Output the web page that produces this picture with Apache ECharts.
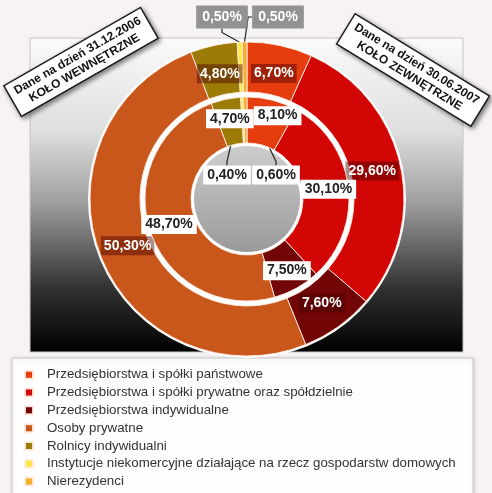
<!DOCTYPE html>
<html>
<head>
<meta charset="utf-8">
<script src="https://cdn.jsdelivr.net/npm/echarts@6/dist/echarts.min.js"></script>
<style>
  html, body { margin: 0; padding: 0; background: #f7f3f5; }
  #chart { width: 492px; height: 493px; }
</style>
</head>
<body>
<div id="chart"></div>
<script>
// Struktura własności – dwa pierścienie (wewnętrzny: 31.12.2006, zewnętrzny: 30.06.2007)
const categories = [
  'Przedsiębiorstwa i spółki państwowe',
  'Przedsiębiorstwa i spółki prywatne oraz spółdzielnie',
  'Przedsiębiorstwa indywidualne',
  'Osoby prywatne',
  'Rolnicy indywidualni',
  'Instytucje niekomercyjne działające na rzecz gospodarstw domowych',
  'Nierezydenci'
];
const outerValues = [6.7, 29.6, 7.6, 50.3, 4.8, 0.5, 0.5];   // 30.06.2007
const innerValues = [8.1, 30.1, 7.5, 48.7, 4.7, 0.4, 0.6];   // 31.12.2006
const palette = ['#e63d0e', '#d30606', '#720606', '#c9561a', '#9c7c06', '#fbe84a', '#f4ac2c'];

const CX = 247, CY = 199;
const FONT = '"Liberation Sans", Arial, sans-serif';

const fmt = v => v.toFixed(2).replace('.', ',') + '%';

const innerLabel = {
  show: true, position: 'inside', formatter: p => fmt(p.value),
  color: '#222', fontFamily: FONT, fontWeight: 'bold', fontSize: 14,
  backgroundColor: '#ffffff', padding: [3, 4, 2, 4]
};
const outerLabel = {
  show: true, position: 'inside', formatter: p => fmt(p.value),
  color: '#ffffff', fontFamily: FONT, fontWeight: 'bold', fontSize: 14,
  backgroundColor: 'rgba(70,0,0,0.45)', padding: [3, 3, 2, 3]
};
const smallOuterLabel = {
  position: 'outside', color: '#ffffff', backgroundColor: 'rgba(135,135,135,0.9)',
  padding: [5, 6, 4, 6]
};
const smallInnerLabel = {
  position: 'outside', color: '#222', backgroundColor: '#ffffff',
  padding: [3, 4, 2, 4]
};
const arrowLine = { show: true, length: 6, length2: 4, lineStyle: { color: '#222', width: 1.2 } };

// Label anchors for the two thinnest slices of each ring, relative to the centre
const smallPlacement = {
  outer: { 5: [-25, 17 - CY], 6: [31, 17 - CY] },
  inner: { 5: [-20, -24], 6: [29, -24] }
};

function ringData(values, ring) {
  return values.map((v, i) => {
    const item = { name: categories[i], value: v, itemStyle: { color: palette[i] } };
    if (i >= 5) {
      item.label = ring === 'outer' ? smallOuterLabel : smallInnerLabel;
      item.labelLine = arrowLine;
    }
    if (ring === 'inner' && i === 0) item.label = { offset: [10, -4] };
    return item;
  });
}

// Outer-ring value boxes sit a little closer to the centre than mid-ring
const OUTER_PULL = 0.95;

function placeLabels(ring) {
  return function (params) {
    const pos = smallPlacement[ring][params.dataIndex];
    if (pos) {
      return { x: CX + pos[0], y: CY + pos[1], align: 'center', verticalAlign: 'middle' };
    }
    if (ring === 'outer') {
      const r = params.labelRect;
      const mx = r.x + r.width / 2, my = r.y + r.height / 2;
      return {
        x: CX + (mx - CX) * OUTER_PULL, y: CY + (my - CY) * OUTER_PULL,
        align: 'center', verticalAlign: 'middle'
      };
    }
    return {};
  };
}

const chart = echarts.init(document.getElementById('chart'), null, { renderer: 'canvas' });

chart.setOption({
  animation: false,
  backgroundColor: '#f7f3f5',
  graphic: [
    {
      type: 'rect', z: 0, silent: true,
      shape: { x: 30, y: 38, width: 433, height: 314 },
      style: {
        fill: new echarts.graphic.LinearGradient(0, 0, 0, 1, [
          { offset: 0, color: '#fbfbfb' },
          { offset: 0.3, color: '#dedede' },
          { offset: 0.52, color: '#a0a0a0' },
          { offset: 0.8, color: '#303030' },
          { offset: 1, color: '#000000' }
        ]),
        stroke: '#c4c4c4', lineWidth: 1
      }
    },
    {
      type: 'rect', z: 0, silent: true,
      shape: { x: 12, y: 358, width: 461, height: 140 },
      style: {
        fill: '#fefefe', stroke: '#c6c6c6', lineWidth: 1,
        shadowBlur: 4, shadowColor: 'rgba(0,0,0,0.15)', shadowOffsetX: 1, shadowOffsetY: 1
      }
    },
    {
      type: 'text', z: 100, x: 81, y: 62, rotation: 0.52,
      style: {
        text: 'Dane na dzień 31.12.2006\nKOŁO WEWNĘTRZNE',
        font: 'bold 12px ' + FONT, fill: '#111', align: 'center', verticalAlign: 'middle',
        lineHeight: 14, backgroundColor: '#ffffff', borderColor: '#222', borderWidth: 1.5,
        padding: [3, 6, 3, 6],
        shadowBlur: 5, shadowColor: 'rgba(0,0,0,0.45)', shadowOffsetX: 2, shadowOffsetY: 2
      }
    },
    {
      type: 'text', z: 100, x: 413, y: 70, rotation: -0.55,
      style: {
        text: 'Dane na dzień 30.06.2007\nKOŁO ZEWNĘTRZNE',
        font: 'bold 12px ' + FONT, fill: '#111', align: 'center', verticalAlign: 'middle',
        lineHeight: 14, backgroundColor: '#ffffff', borderColor: '#222', borderWidth: 1.5,
        padding: [3, 6, 3, 6],
        shadowBlur: 5, shadowColor: 'rgba(0,0,0,0.45)', shadowOffsetX: 2, shadowOffsetY: 2
      }
    }
  ],
  legend: {
    data: categories,
    orient: 'vertical',
    left: 24, top: 368, padding: 0,
    itemWidth: 8, itemHeight: 8, itemGap: 4.3,
    icon: 'rect',
    selectedMode: false,
    textStyle: { fontFamily: FONT, fontSize: 13.3, color: '#333', lineHeight: 13.5, padding: [0, 0, 0, 9] }
  },
  series: [
    {
      // white backing disc: outer outline and the gap between rings
      type: 'pie', z: 1, silent: true, center: [CX, CY], radius: [0, 159],
      label: { show: false }, labelLine: { show: false },
      data: [{ value: 1, name: '', itemStyle: { color: '#ffffff' } }]
    },
    {
      name: '30.06.2007', type: 'pie', z: 2, center: [CX, CY], radius: [107, 157],
      startAngle: 90, clockwise: true, avoidLabelOverlap: false,
      itemStyle: { borderColor: 'rgba(255,235,225,0.9)', borderWidth: 1 },
      label: outerLabel, labelLine: { show: false },
      labelLayout: placeLabels('outer'),
      data: ringData(outerValues, 'outer')
    },
    {
      name: '31.12.2006', type: 'pie', z: 3, center: [CX, CY], radius: [56, 102],
      startAngle: 90, clockwise: true, avoidLabelOverlap: false,
      itemStyle: { borderColor: 'rgba(255,235,225,0.9)', borderWidth: 1 },
      label: innerLabel, labelLine: { show: false },
      labelLayout: placeLabels('inner'),
      data: ringData(innerValues, 'inner')
    },
    {
      // grey hub in the middle
      type: 'pie', z: 2, silent: true, center: [CX, CY], radius: [0, 53],
      label: { show: false }, labelLine: { show: false },
      data: [{
        value: 1, name: '',
        itemStyle: {
          color: new echarts.graphic.LinearGradient(0, 0, 0, 1, [
            { offset: 0, color: '#cdcdcd' },
            { offset: 1, color: '#9a9a9a' }
          ])
        }
      }]
    }
  ]
});
</script>
</body>
</html>
